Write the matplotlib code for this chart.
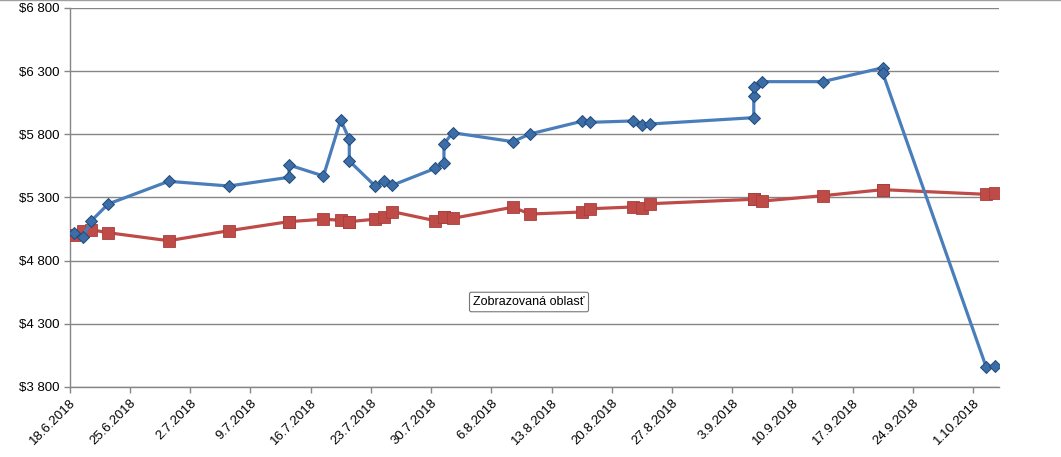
import pandas as pd
import matplotlib.pyplot as plt
from matplotlib.ticker import FuncFormatter

# Dates of the records (same for both series, repeated dates = several records that day)
dates = ["2018-06-18", "2018-06-19", "2018-06-20", "2018-06-22", "2018-06-29",
         "2018-07-06", "2018-07-13", "2018-07-13", "2018-07-17", "2018-07-19",
         "2018-07-20", "2018-07-20", "2018-07-23", "2018-07-24", "2018-07-25",
         "2018-07-30", "2018-07-31", "2018-07-31", "2018-08-01", "2018-08-08",
         "2018-08-10", "2018-08-16", "2018-08-17", "2018-08-22", "2018-08-23",
         "2018-08-24", "2018-09-05", "2018-09-05", "2018-09-05", "2018-09-06",
         "2018-09-13", "2018-09-20", "2018-09-20", "2018-10-02", "2018-10-03"]

blue_values = [5019, 4987, 5114, 5249, 5428,
               5391, 5460, 5557, 5470, 5914,
               5761, 5589, 5391, 5431, 5397,
               5531, 5576, 5724, 5813, 5742,
               5803, 5903, 5895, 5906, 5874,
               5882, 5932, 6103, 6177, 6217,
               6217, 6327, 6283, 3959, 3966]

red_values = [5003, 5037, 5045, 5021, 4958,
              5037, 5109, 5109, 5128, 5120,
              5109, 5109, 5128, 5148, 5188,
              5116, 5143, 5143, 5135, 5223,
              5169, 5185, 5211, 5225, 5220,
              5251, 5286, 5286, 5286, 5272,
              5314, 5362, 5362, 5325, 5333]

y_ticks = [3800, 4300, 4800, 5300, 5800, 6300, 6800]
tick_dates = pd.date_range("2018-06-18", "2018-10-01", freq="7D")
tooltip_text = "Zobrazovaná oblasť"

plt.rcParams['font.family'] = ['Liberation Sans', 'DejaVu Sans']

# points sit in the middle of their day, like on the Excel date axis
x = pd.to_datetime(dates) + pd.Timedelta(hours=12)

fig = plt.figure(figsize=(10.61, 4.57), dpi=100)
ax = fig.add_axes([0.0656, 0.1532, 0.876, 0.8293])

grid_color = "#868686"
ax.plot(x, red_values, color="#BE4B48", lw=2.3, marker="s", markersize=8,
        markerfacecolor="#BE4B48", markeredgecolor="#A83E3B", markeredgewidth=0.6, zorder=3)
ax.plot(x, blue_values, color="#4A7EBB", lw=2.3, marker="D", markersize=6.5,
        markerfacecolor="#3C6DA6", markeredgecolor="#1F4A7A", markeredgewidth=0.7, zorder=4)

ax.set_ylim(y_ticks[0], y_ticks[-1])
ax.set_yticks(y_ticks)
ax.yaxis.set_major_formatter(FuncFormatter(lambda v, p: "$" + f"{int(v):,}".replace(",", " ")))
ax.set_xlim(pd.Timestamp("2018-06-18"), pd.Timestamp("2018-10-04"))
ax.set_xticks(tick_dates)
ax.set_xticklabels([f"{d.day}.{d.month}.{d.year}" for d in tick_dates],
                   rotation=45, ha="right", rotation_mode="anchor")

ax.grid(axis="y", color=grid_color, lw=1)
ax.set_axisbelow(True)
for side in ["top", "right"]:
    ax.spines[side].set_visible(False)
for side in ["left", "bottom"]:
    ax.spines[side].set_color(grid_color)
    ax.spines[side].set_linewidth(1)
ax.tick_params(axis="both", colors=grid_color, length=4, width=1, labelcolor="black", labelsize=9.5)
ax.tick_params(axis="x", pad=3)

# thin border at the top edge of the screenshot
fig.add_artist(plt.Line2D([0, 1], [0.999, 0.999], color="#A0A0A0", lw=1, transform=fig.transFigure))

# Excel tooltip left in the screenshot
fig.text(529 / 1061, 1 - 302 / 457, tooltip_text, ha="center", va="center", fontsize=9,
         bbox=dict(boxstyle="round,pad=0.3,rounding_size=0.15", fc="white", ec="#767676", lw=0.8))

fig.savefig("out.png", dpi=100)
